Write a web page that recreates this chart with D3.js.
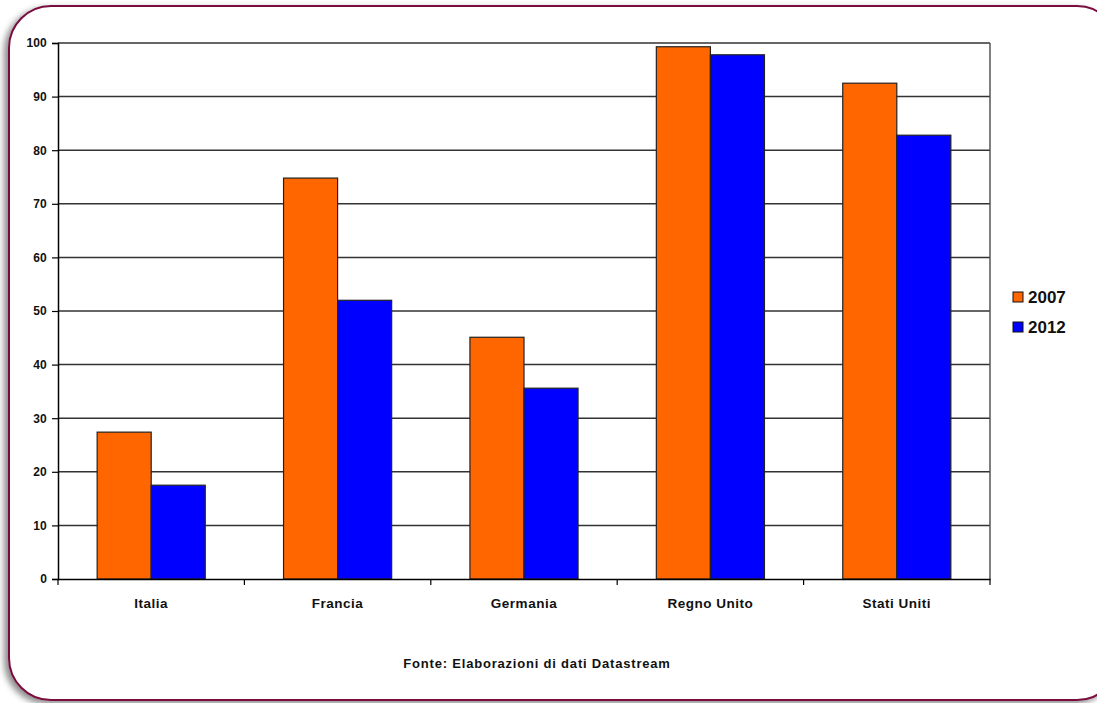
<!DOCTYPE html>
<html>
<head>
<meta charset="utf-8">
<script src="https://cdn.jsdelivr.net/npm/d3@7"></script>
<style>
  html, body { margin: 0; padding: 0; background: #fff; overflow: hidden; }
  svg { display: block; }
</style>
</head>
<body>
<svg id="chart" width="1097" height="703"></svg>
<script>
// Categories and series values
const categories = ["Italia", "Francia", "Germania", "Regno Unito", "Stati Uniti"];
const seriesNames = ["2007", "2012"];
const values2007 = [27.4, 74.8, 45.1, 99.3, 92.5];
const values2012 = [17.5, 52.0, 35.6, 97.8, 82.8];
const yTicks = [0, 10, 20, 30, 40, 50, 60, 70, 80, 90, 100];
const seriesColors = ["#FF6600", "#0000FF"];
const sourceText = "Fonte: Elaborazioni di dati Datastream";

const rows = categories.map((c, i) => ({ cat: c, vals: [values2007[i], values2012[i]] }));

const svg = d3.select("#chart");
const font = "'Liberation Sans', Arial, sans-serif";

// Frame with shadow
const defs = svg.append("defs");
const f = defs.append("filter").attr("id", "shadow")
  .attr("x", "-5%").attr("y", "-5%").attr("width", "110%").attr("height", "110%");
f.append("feDropShadow").attr("dx", -4).attr("dy", 3).attr("stdDeviation", 3)
  .attr("flood-color", "#000").attr("flood-opacity", 0.45);

svg.append("rect")
  .attr("x", 9).attr("y", 6).attr("width", 1110).attr("height", 694)
  .attr("rx", 42).attr("ry", 42)
  .attr("fill", "#fff").attr("stroke", "#7a1040").attr("stroke-width", 2)
  .attr("filter", "url(#shadow)");

const plot = { left: 58, right: 990, top: 43, bottom: 579 };

const x = d3.scaleBand().domain(categories).range([plot.left, plot.right]).padding(0);
const groupFrac = 0.58;
const x1 = d3.scaleBand().domain(seriesNames)
  .range([0, x.bandwidth() * groupFrac]).padding(0);
const groupOffset = (x.bandwidth() * (1 - groupFrac)) / 2;

const y = d3.scaleLinear().domain([0, 100]).range([plot.bottom, plot.top]);

// Gridlines
svg.append("g").selectAll("line").data(yTicks.filter(t => t > 0)).join("line")
  .attr("x1", plot.left).attr("x2", plot.right)
  .attr("y1", d => y(d)).attr("y2", d => y(d))
  .attr("stroke", "#333").attr("stroke-width", 1.5);

// Right border of plot
svg.append("line")
  .attr("x1", plot.right).attr("x2", plot.right)
  .attr("y1", plot.top).attr("y2", plot.bottom)
  .attr("stroke", "#555").attr("stroke-width", 1.5);

// Bars
const groups = svg.append("g").selectAll("g").data(rows).join("g")
  .attr("transform", d => `translate(${x(d.cat) + groupOffset},0)`);
groups.selectAll("rect").data(d => d.vals.map((v, i) => ({ v, s: seriesNames[i], i }))).join("rect")
  .attr("x", d => x1(d.s))
  .attr("y", d => y(d.v))
  .attr("width", x1.bandwidth())
  .attr("height", d => y(0) - y(d.v))
  .attr("fill", d => seriesColors[d.i])
  .attr("stroke", "#222").attr("stroke-width", 1.2);

// Y axis
const yAxis = svg.append("g")
  .attr("transform", `translate(${plot.left},0)`)
  .call(d3.axisLeft(y).tickValues(yTicks).tickSize(6).tickPadding(5).tickFormat(d3.format("d")));
yAxis.select(".domain").attr("stroke", "#000").attr("stroke-width", 1.5);
yAxis.selectAll(".tick line").attr("stroke", "#000").attr("stroke-width", 1.2);
yAxis.selectAll("text").attr("font-family", font).attr("font-weight", "bold")
  .attr("font-size", 12).attr("letter-spacing", 0.2).attr("fill", "#111");

// X axis
const xAxis = svg.append("g")
  .attr("transform", `translate(0,${plot.bottom})`)
  .call(d3.axisBottom(x).tickSize(0).tickPadding(19));
xAxis.select(".domain").attr("stroke", "#000").attr("stroke-width", 1.5);
xAxis.selectAll("text").attr("font-family", font).attr("font-weight", "bold")
  .attr("font-size", 13.5).attr("letter-spacing", 0.5).attr("fill", "#111");
// Category separator ticks
const bounds = categories.map(c => x(c)).concat([plot.right]);
xAxis.append("g").selectAll("line").data(bounds).join("line")
  .attr("x1", d => d).attr("x2", d => d).attr("y1", 0).attr("y2", 6)
  .attr("stroke", "#000").attr("stroke-width", 1.2);

// Legend
const legend = svg.append("g").attr("transform", "translate(1013,292)");
const li = legend.selectAll("g").data(seriesNames).join("g")
  .attr("transform", (d, i) => `translate(0,${i * 30})`);
li.append("rect").attr("width", 10).attr("height", 10)
  .attr("fill", (d, i) => seriesColors[i]).attr("stroke", "#111").attr("stroke-width", 1);
li.append("text").attr("x", 15).attr("y", 11)
  .attr("font-family", "'Liberation Sans Narrow', 'Arial Narrow', " + font)
  .attr("font-weight", "bold").attr("font-size", 17).attr("fill", "#111")
  .text(d => d);

// Source
svg.append("text").attr("x", 537).attr("y", 668).attr("text-anchor", "middle")
  .attr("font-family", font).attr("font-weight", "bold").attr("font-size", 13)
  .attr("letter-spacing", 0.8).attr("fill", "#111").text(sourceText);
</script>
</body>
</html>
